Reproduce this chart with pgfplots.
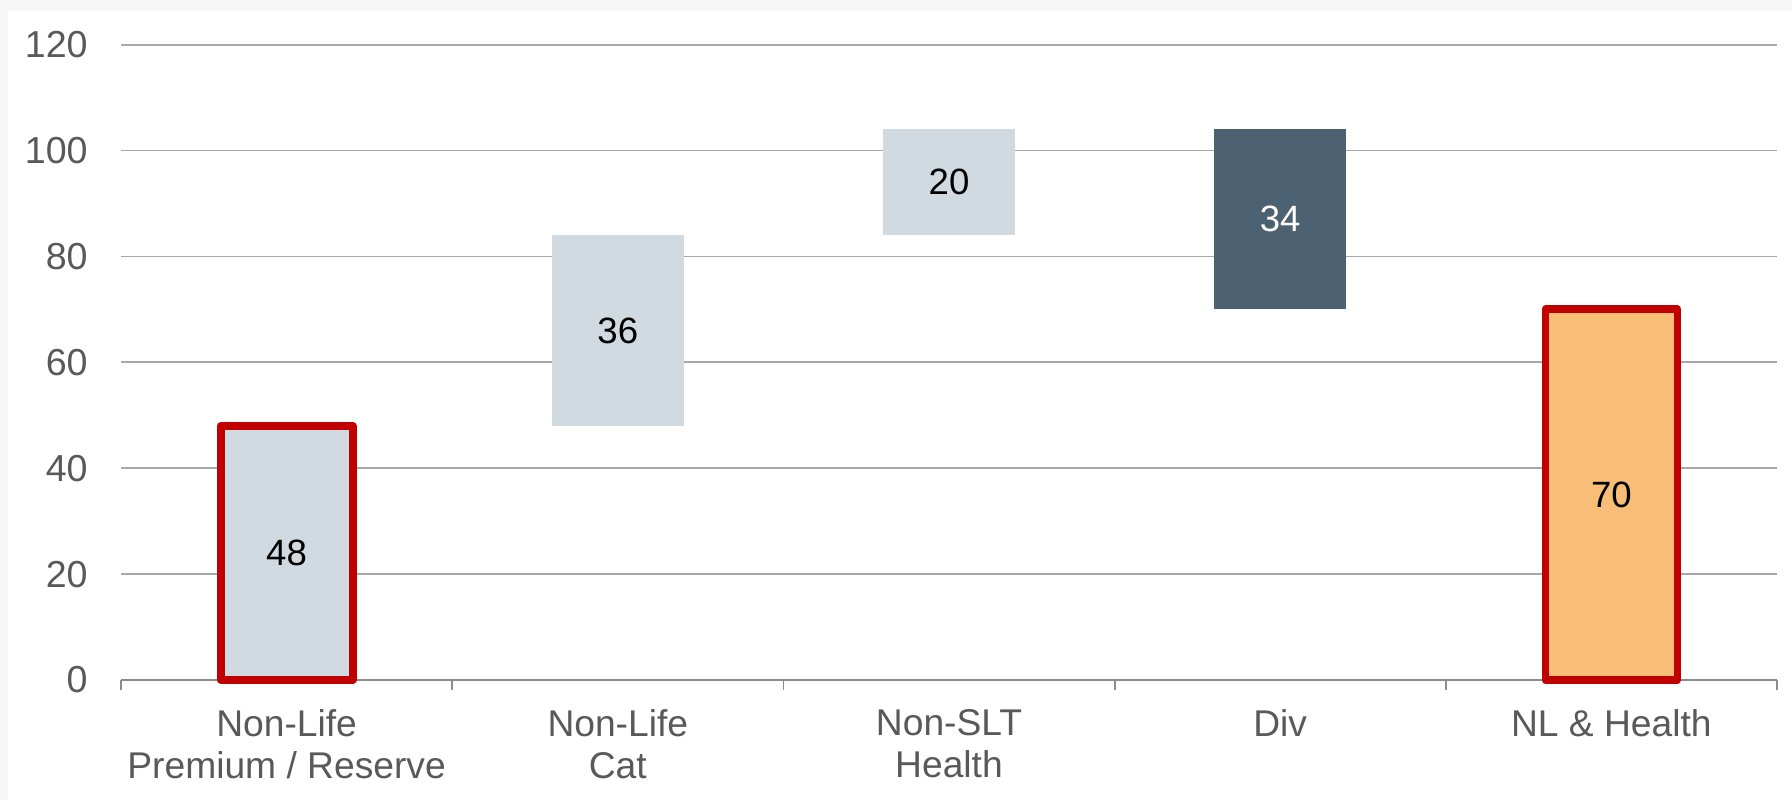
\documentclass[border=0pt]{standalone}
\usepackage{pgfplots}
\pgfplotsset{compat=1.18}
\usepackage{fontspec}
\setmainfont{Liberation Sans}
\definecolor{bglight}{HTML}{F6F6F6}
\definecolor{lightbar}{HTML}{D1DAE0}
\definecolor{darkbar}{HTML}{4C6171}
\definecolor{orangebar}{HTML}{F8BE78}
\definecolor{redborder}{HTML}{C00000}
\definecolor{gridgray}{HTML}{A8A8A8}
\definecolor{axisgray}{HTML}{8C8C8C}
\definecolor{labelgray}{HTML}{595959}
\begin{document}
\begin{tikzpicture}
\path[use as bounding box] (0,0) rectangle (896pt,400pt);
\fill[bglight] (0,0) rectangle (896pt,400pt);
\fill[white] (4pt,0) rectangle (896pt,394.7pt);
\begin{axis}[
  at={(60.5pt,60pt)}, anchor=south west,
  width=828pt, height=317.7pt, scale only axis,
  xmin=-0.5, xmax=4.5, ymin=0, ymax=120,
  enlargelimits=false,
  ybar stacked, stack negative=on previous, reverse stacked plots=false,
  bar width=66pt,
  axis x line*=bottom, axis y line*=left,
  y axis line style={draw=none},
  x axis line style={-, draw=axisgray, line width=0.9pt},
  xtick={0,1,2,3,4},
  xticklabels={{Non-Life\\Premium / Reserve},{Non-Life\\Cat},{Non-SLT\\Health},{Div},{NL \& Health}},
  minor xtick={-0.5,0.5,1.5,2.5,3.5,4.5},
  ytick={0,20,...,120},
  /pgf/number format/assume math mode=true,
  major tick length=0pt, minor tick length=5pt,
  tick align=outside,
  xtick style={draw=none}, ytick style={draw=none},
  minor x tick style={draw=axisgray, line width=0.9pt},
  ymajorgrids, grid style={draw=gridgray, line width=0.9pt},
  xticklabel style={anchor=north, inner sep=0pt, yshift=-14.5pt, align=center,
    font=\fontsize{18.6}{21}\selectfont, text=labelgray},
  yticklabel style={anchor=east, inner sep=0pt, xshift=-16.5pt,
    font=\fontsize{18.8}{21}\selectfont, text=labelgray},
  clip=false,
]
\addplot[fill=lightbar, draw=redborder, line width=3.9pt, line join=round] coordinates {(0,48)};
\addplot[fill=lightbar, draw=none] coordinates {(1,36)};
\addplot[fill=lightbar, draw=none] coordinates {(2,20)};
\addplot[fill=darkbar, draw=none] coordinates {(3,-34)};
\addplot[fill=none, draw=none] coordinates {(4,-70)};
\addplot[fill=orangebar, draw=redborder, line width=3.9pt, line join=round] coordinates {(4,70)};
\coordinate (l0) at (axis cs:0,24);
\coordinate (l1) at (axis cs:1,66);
\coordinate (l2) at (axis cs:2,94);
\coordinate (l3) at (axis cs:3,87);
\coordinate (l4) at (axis cs:4,35);
\end{axis}
\node[font=\fontsize{18.3}{20}\selectfont, text=black] at (l0) {48};
\node[font=\fontsize{18.3}{20}\selectfont, text=black] at (l1) {36};
\node[font=\fontsize{18.3}{20}\selectfont, text=black] at (l2) {20};
\node[font=\fontsize{18.3}{20}\selectfont, text=white] at (l3) {34};
\node[font=\fontsize{18.3}{20}\selectfont, text=black] at (l4) {70};
\end{tikzpicture}
\end{document}
